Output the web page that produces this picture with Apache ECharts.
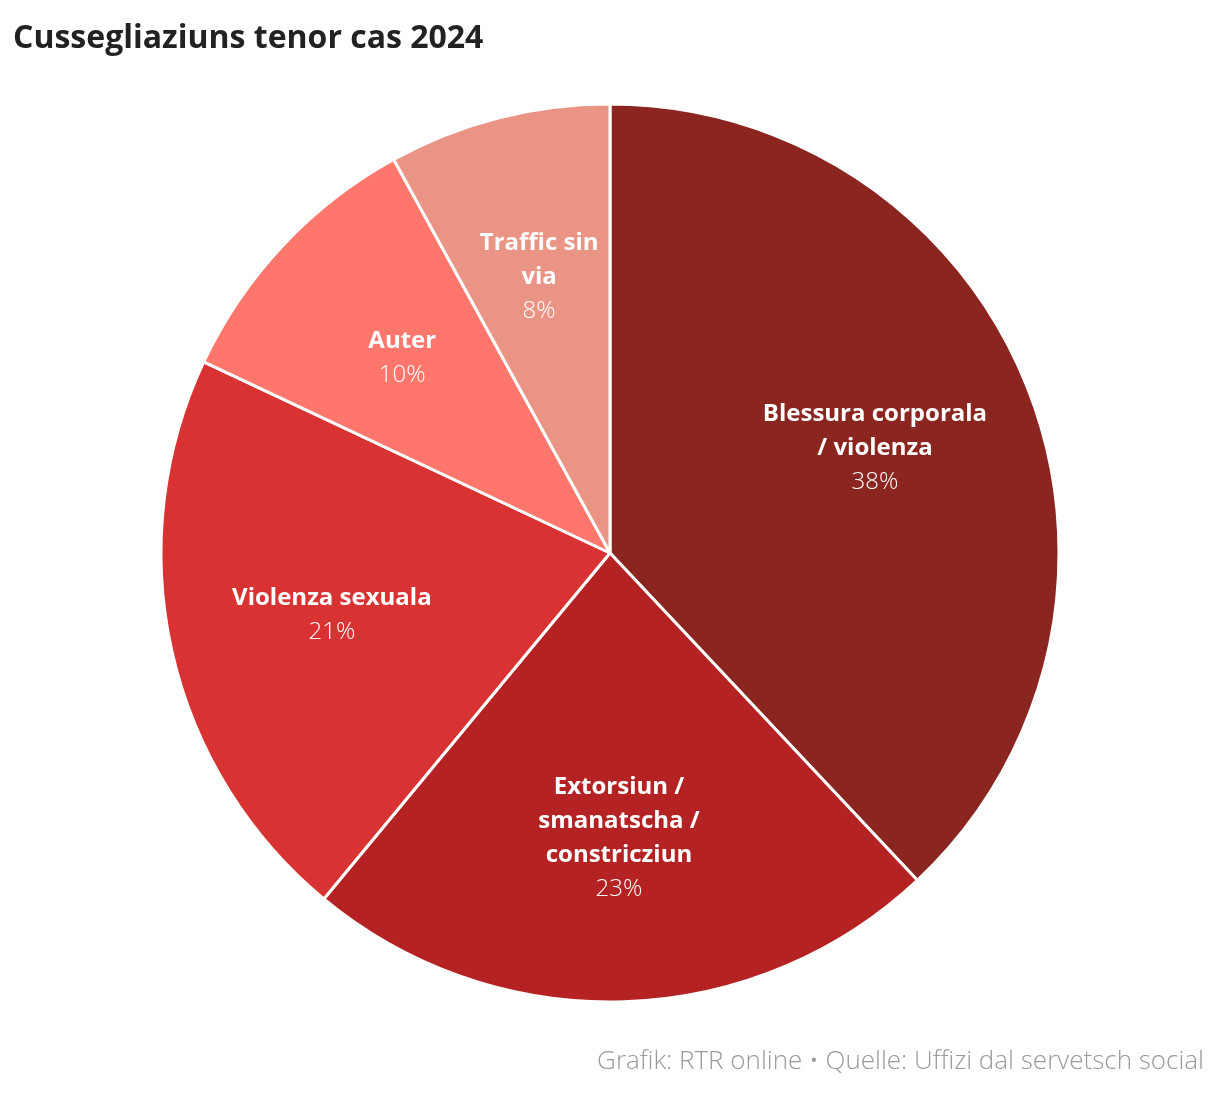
<!DOCTYPE html>
<html lang="rm">
<head>
<meta charset="UTF-8">
<title>Cussegliaziuns tenor cas 2024</title>
<style>
  html, body { margin: 0; padding: 0; background: #fff; }
  #chart { width: 1220px; height: 1094px; }
</style>
</head>
<body>
<div id="chart"></div>
<script src="https://cdn.jsdelivr.net/npm/echarts@6/dist/echarts.min.js"></script>
<script>
// data, clockwise from 12 o'clock
var categories = ['Blessura corporala / violenza', 'Extorsiun / smanatscha / constricziun', 'Violenza sexuala', 'Auter', 'Traffic sin via'];
var shares = [38, 23, 21, 10, 8];
// how the labels break in the picture
var labelText = ['Blessura corporala\n/ violenza', 'Extorsiun /\nsmanatscha /\nconstricziun', 'Violenza sexuala', 'Auter', 'Traffic sin\nvia'];
var colors = ['#8a251f', '#b42224', '#d93232', '#ff766c', '#e99484'];

var font = '"Open Sans", "Noto Sans", sans-serif';

var pieData = categories.map(function (c, i) {
  return { name: c, value: shares[i], itemStyle: { color: colors[i] } };
});
var labelData = categories.map(function (c, i) {
  return { name: c, value: shares[i], label: { formatter: '{n|' + labelText[i].split('\n').join('}\n{n|') + '}\n{p|' + shares[i] + '%}' } };
});

var chart = echarts.init(document.getElementById('chart'));
chart.setOption({
  animation: false,
  title: [{
    text: 'Cussegliaziuns tenor cas 2024',
    left: 8, top: 18,
    textStyle: { fontFamily: font, fontSize: 32, fontWeight: 'bold', color: '#222' }
  }, {
    text: 'Grafik: RTR online • Quelle: Uffizi dal servetsch social',
    right: 11, top: 1044,
    textStyle: { fontFamily: font, fontSize: 26, fontWeight: 300, color: '#9a9a9a' }
  }],
  series: [{
    type: 'pie',
    center: [610, 553],
    radius: [0, 449],
    startAngle: 90,
    clockwise: true,
    silent: true,
    label: { show: false },
    labelLine: { show: false },
    itemStyle: { borderColor: '#fff', borderWidth: 3 },
    data: pieData
  }, {
    // transparent ring only used to place the labels at ~0.625 r
    type: 'pie',
    center: [610, 553],
    radius: [115, 449],
    startAngle: 90,
    clockwise: true,
    silent: true,
    itemStyle: { color: 'transparent', borderWidth: 0 },
    labelLine: { show: false },
    label: {
      show: true,
      position: 'inside',
      color: '#fff',
      align: 'center',
      rich: {
        n: { fontFamily: font, fontSize: 24, fontWeight: 'bold', color: '#fff', lineHeight: 34, align: 'center' },
        p: { fontFamily: font, fontSize: 24, fontWeight: 300, color: '#fff', lineHeight: 34, align: 'center' }
      }
    },
    data: labelData
  }]
});
</script>
</body>
</html>
